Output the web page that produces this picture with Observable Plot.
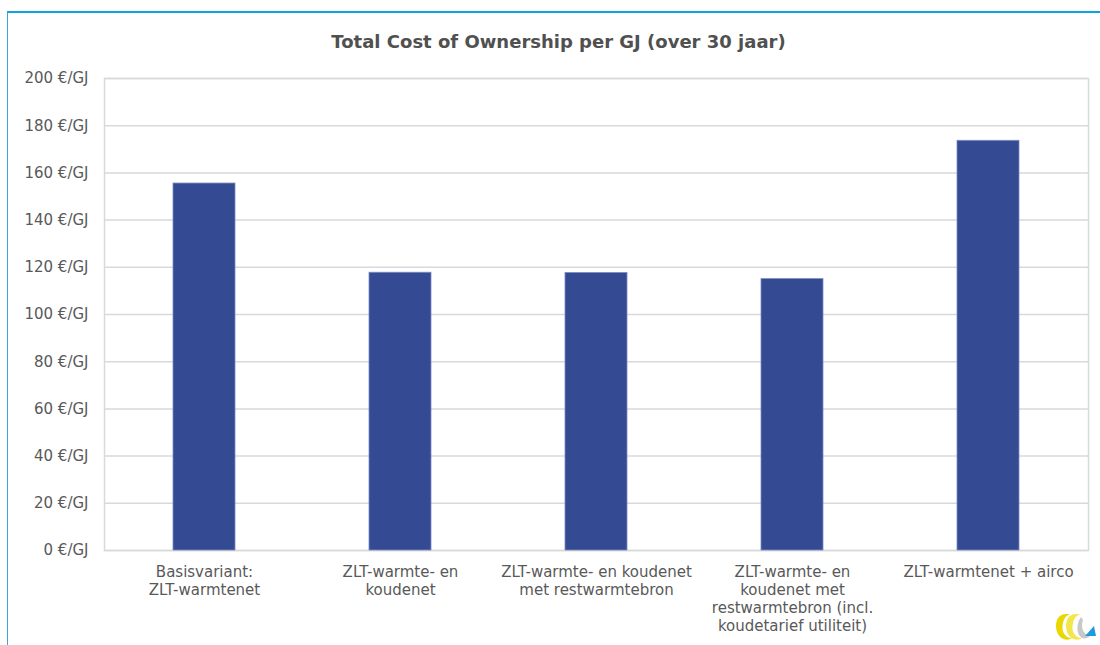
<!DOCTYPE html>
<html>
<head>
<meta charset="utf-8">
<script src="https://cdn.jsdelivr.net/npm/d3@7"></script>
<script src="https://cdn.jsdelivr.net/npm/@observablehq/plot@0.6"></script>
<style>
  html, body { margin: 0; padding: 0; background: #fff; }
  body { width: 1100px; height: 645px; position: relative; overflow: hidden; font-family: "DejaVu Sans", sans-serif; }
  #border { position: absolute; left: 7px; top: 11px; right: 0; bottom: 0; border-top: 2px solid #0aa3df; border-left: 1.5px solid #3aa6d6; }
  #title { position: absolute; top: 31px; left: 0; width: 1117px; text-align: center; font-size: 18px; font-weight: bold; color: #505050; }
  #chart { position: absolute; top: 60px; left: 0; }
  #logo { position: absolute; left: 1052px; top: 612px; }
</style>
</head>
<body>
<div id="border"></div>
<div id="title">Total Cost of Ownership per GJ (over 30 jaar)</div>
<div id="chart"></div>
<svg id="logo" width="46" height="30" viewBox="0 0 46 30">
  <path d="M14 2 C4 2 2 14 6 22 C9 28 16 29 20 26 C12 26 9 18 11 11 C12 6 15 3 18 2 Z" fill="#e8d800"/>
  <path d="M24 2 C14 2 12 14 16 22 C19 28 26 29 30 26 C22 26 19 18 21 11 C22 6 25 3 28 2 Z" fill="#f2e64a"/>
  <path d="M29 5 C24 12 24 22 30 26 C33 27 36 26 38 24 C32 23 28 16 31 8 Z" fill="#c8c8c8"/>
  <path d="M33 24 L44 24 L42 14 Z" fill="#1e9be0"/>
</svg>
<script>
const categories = [
  "Basisvariant:\nZLT-warmtenet",
  "ZLT-warmte- en\nkoudenet",
  "ZLT-warmte- en koudenet\nmet restwarmtebron",
  "ZLT-warmte- en\nkoudenet met\nrestwarmtebron (incl.\nkoudetarief utiliteit)",
  "ZLT-warmtenet + airco"
];
const values = [155.5, 117.7, 117.6, 115.0, 173.6];
const yTicks = [0, 20, 40, 60, 80, 100, 120, 140, 160, 180, 200];

const data = categories.map((c, i) => ({category: c, value: values[i]}));

const chart = Plot.plot({
  width: 1100,
  height: 585,
  marginLeft: 104,
  marginRight: 12,
  marginTop: 18,
  marginBottom: 95,
  style: {fontFamily: "DejaVu Sans, sans-serif", background: "transparent"},
  x: {domain: categories, type: "band", paddingInner: 0.685, paddingOuter: 0.3425},
  y: {domain: [0, 200]},
  marks: [
    Plot.gridY(yTicks, {stroke: "#d9d9d9", strokeOpacity: 1, strokeWidth: 1.5}),
    Plot.frame({stroke: "#d9d9d9", strokeWidth: 1.5}),
    Plot.barY(data, {x: "category", y: "value", fill: "#344a92", stroke: "#7d8bc2", strokeWidth: 0.8}),
    Plot.axisY(yTicks, {tickSize: 0, tickPadding: 16, fontSize: 15, fill: "#595959", tickFormat: d => `${d} €/GJ`, label: null}),
    Plot.axisX({tickSize: 0, tickPadding: 14, fontSize: 15, fill: "#595959", lineHeight: 1.2, label: null})
  ]
});
document.getElementById("chart").appendChild(chart);
</script>
</body>
</html>
